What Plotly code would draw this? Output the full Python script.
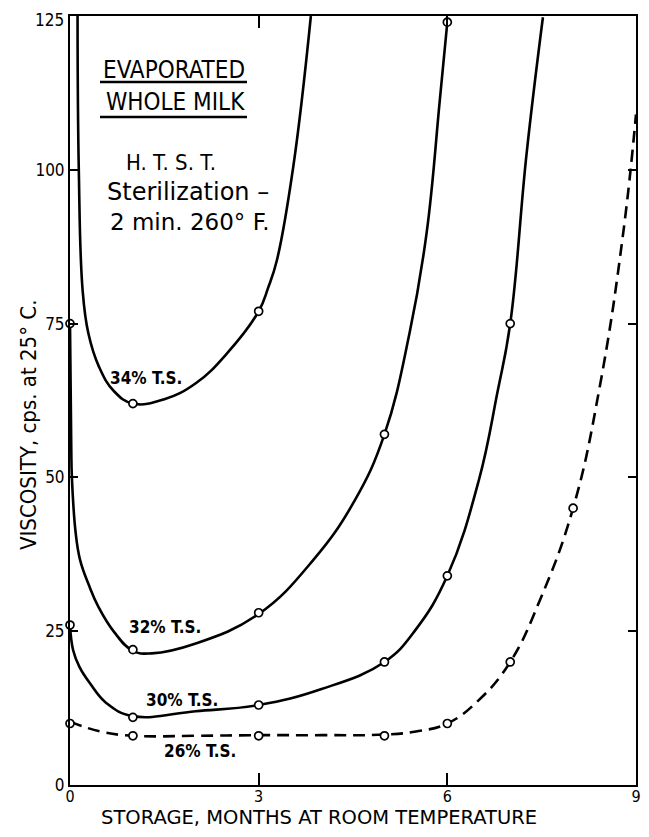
import plotly.graph_objects as go

# ---- data ----
# smooth curves
c34_x = [0.12, 0.14, 0.20, 0.29, 0.46, 0.70, 1.00, 1.50, 2.00, 2.50, 3.00, 3.15, 3.29, 3.55, 3.83]
c34_y = [125, 100, 80.5, 73.5, 68, 64, 62, 62.7, 65.3, 70.2, 77, 80.8, 85.3, 100.5, 125]

c32_x = [0.00, 0.02, 0.03, 0.09, 0.16, 0.30, 0.45, 0.70, 1.00, 1.30, 2.00, 3.00, 3.87, 4.53, 5.00, 5.40, 5.67, 5.88, 6.00]
c32_y = [75, 55, 50, 41, 36.6, 32.5, 29, 24.9, 21.8, 21.4, 23, 27.8, 36.6, 46.3, 57, 73.5, 89.7, 111.3, 124]

c30_x = [0.00, 0.05, 0.15, 0.32, 0.58, 1.00, 2.00, 3.00, 4.00, 5.00, 5.50, 6.00, 6.50, 6.80, 7.00, 7.26, 7.52]
c30_y = [26, 21.9, 19.2, 16.5, 13.3, 11.2, 12, 13, 15.6, 20, 25.3, 34, 49.5, 64, 75, 102.6, 124.8]

c26_x = [0.00, 0.48, 1.00, 2.00, 3.00, 4.00, 5.00, 5.50, 6.00, 6.50, 7.00, 7.47, 8.00, 8.43, 8.80, 9.00]
c26_y = [10.3, 8.7, 8.0, 8.0, 8.1, 8.1, 8.2, 8.7, 10, 13.8, 20, 30, 45, 65.1, 90, 109]

# measured points (open circles)
p34_x = [1, 3]
p34_y = [62, 77]
p32_x = [0, 1, 3, 5, 6]
p32_y = [75, 22, 28, 57, 124]
p30_x = [0, 1, 3, 5, 6, 7]
p30_y = [26, 11, 13, 20, 34, 75]
p26_x = [0, 1, 3, 5, 6, 7, 8]
p26_y = [10, 8, 8, 8, 10, 20, 45]

x_ticks = [0, 3, 6, 9]
y_ticks = [0, 25, 50, 75, 100, 125]
y_top_label = "125"

# ---- layout geometry ----
# the page body has an 8 px margin, so the figure is sized to fit inside it
OFF = 8
WIN_W, WIN_H = 649, 837
W, H = WIN_W - 2 * OFF, WIN_H - 2 * OFF
# plot area in window pixels
PX0, PX1, PY0, PY1 = 70, 636, 16, 785
L, R = PX0 - OFF, W - (PX1 - OFF)
T, B = PY0 - OFF, H - (PY1 - OFF)
PW, PH = PX1 - PX0, PY1 - PY0


def px(xp):
    return (xp - PX0) / PW


def py(yp):
    return (PY1 - yp) / PH


COND = "DejaVu Sans Condensed, Liberation Sans Narrow, DejaVu Sans, sans-serif"
SANS = "DejaVu Sans, sans-serif"

fig = go.Figure()

curves = [
    (c34_x, c34_y, "solid"),
    (c32_x, c32_y, "solid"),
    (c30_x, c30_y, "solid"),
    (c26_x, c26_y, "12px,7px"),
]
for cx, cy, dash in curves:
    fig.add_trace(go.Scatter(
        x=cx, y=cy, mode="lines",
        line=dict(color="black", width=2.6, shape="spline", smoothing=1.2, dash=dash),
        hoverinfo="skip", showlegend=False,
    ))

for mx, my in [(p34_x, p34_y), (p32_x, p32_y), (p30_x, p30_y), (p26_x, p26_y)]:
    fig.add_trace(go.Scatter(
        x=mx, y=my, mode="markers",
        marker=dict(symbol="circle", size=8, color="white",
                    line=dict(color="black", width=1.7)),
        cliponaxis=False, showlegend=False,
    ))

annotations = []


def txt(text, xp, yp, size, family=COND, angle=0, xanchor="center"):
    annotations.append(dict(
        text=text, x=px(xp), y=py(yp), xref="paper", yref="paper",
        showarrow=False, xanchor=xanchor, yanchor="middle",
        textangle=angle, font=dict(family=family, size=size, color="black"),
    ))


txt("<b>34% T.S.</b>", 146, 378, 17)
txt("<b>32% T.S.</b>", 165, 627, 17)
txt("<b>30% T.S.</b>", 182, 700, 17)
txt("<b>26% T.S.</b>", 200, 751, 17)

txt("EVAPORATED", 174, 70, 24)
txt("WHOLE MILK", 175, 102, 24)
txt("H. T. S. T.", 171, 162, 22)
txt("Sterilization –", 188, 192, 24, family=SANS)
txt("2 min. 260° F.", 190, 222, 23, family=SANS)

txt("STORAGE, MONTHS AT ROOM TEMPERATURE", 319, 817, 19.5, family=SANS)
txt("VISCOSITY, cps. at 25° C.", 29, 425, 22, angle=-90)

# top tick label drawn slightly lower so it is not cut by the page edge
txt(y_top_label, 66, 20, 17, xanchor="right")

shapes = [
    dict(type="line", xref="paper", yref="paper", x0=px(100), x1=px(247),
         y0=py(82), y1=py(82), line=dict(color="black", width=2.5)),
    dict(type="line", xref="paper", yref="paper", x0=px(100), x1=px(247),
         y0=py(117), y1=py(117), line=dict(color="black", width=2.5)),
]

y_ticktext = [str(v) for v in y_ticks]
y_ticktext[-1] = ""

fig.update_layout(
    width=W, height=H,
    margin=dict(l=L, r=R, t=T, b=B, pad=0, autoexpand=False),
    paper_bgcolor="white", plot_bgcolor="white",
    showlegend=False,
    annotations=annotations, shapes=shapes,
    xaxis=dict(
        range=[0, 9], tickvals=x_ticks, ticktext=[str(v) for v in x_ticks],
        showgrid=False, zeroline=False, automargin=False,
        showline=True, linecolor="black", linewidth=2, mirror="ticks",
        ticks="inside", ticklen=12, tickwidth=1.5, tickcolor="black",
        ticklabelstandoff=-4, ticklabeloverflow="allow",
        tickfont=dict(family=COND, size=16, color="black"),
    ),
    yaxis=dict(
        range=[0, 125], tickvals=y_ticks, ticktext=y_ticktext,
        showgrid=False, zeroline=False, automargin=False,
        showline=True, linecolor="black", linewidth=2, mirror="ticks",
        ticks="inside", ticklen=8, tickwidth=1.5, tickcolor="black",
        ticklabelstandoff=0, ticklabeloverflow="allow",
        tickfont=dict(family=COND, size=17, color="black"),
    ),
)

fig.write_html("out.html")
